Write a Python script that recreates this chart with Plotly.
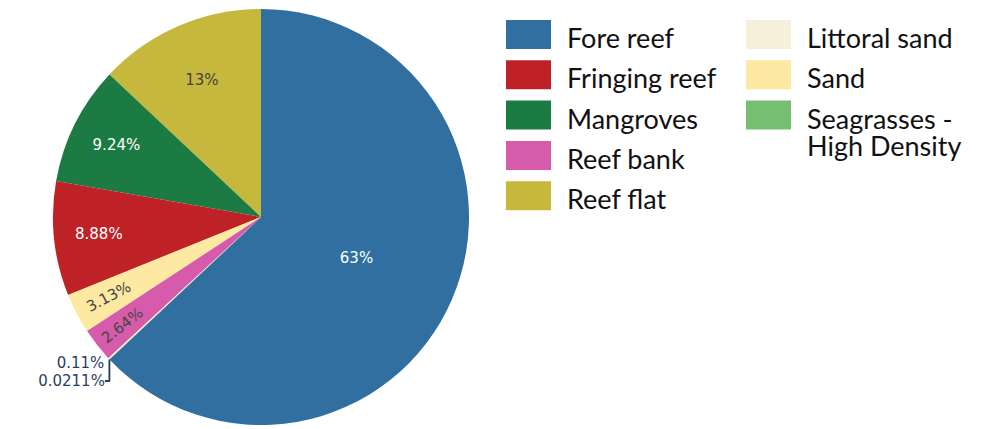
import plotly.graph_objects as go

# Habitat classes and their share of the mapped area (%)
habitats = [
    "Fore reef",
    "Fringing reef",
    "Mangroves",
    "Reef bank",
    "Reef flat",
    "Littoral sand",
    "Sand",
    "Seagrasses - High Density",
]
shares = [62.98, 8.88, 9.24, 2.64, 12.99, 0.11, 3.13, 0.0211]
colors = [
    "#306fa0",
    "#be2226",
    "#1b7b42",
    "#d65bab",
    "#c6b83c",
    "#f6f0db",
    "#fde9a2",
    "#76bf72",
]
# legend label lines (long names wrap onto a second line)
legend_lines = [
    ["Fore reef"],
    ["Fringing reef"],
    ["Mangroves"],
    ["Reef bank"],
    ["Reef flat"],
    ["Littoral sand"],
    ["Sand"],
    ["Seagrasses -", "High Density"],
]

W, H = 1005, 429
M_T, M_B = 9, 4
PLOT_H = H - M_T - M_B


def py(y_px):
    """Pixel row (from the figure top) -> paper y."""
    return 1 - (y_px - M_T) / PLOT_H


fig = go.Figure(
    go.Pie(
        labels=habitats,
        values=shares,
        marker=dict(colors=colors, line=dict(width=0)),
        textinfo="percent",
        textfont=dict(family="DejaVu Sans", size=15),
        sort=True,
        direction="counterclockwise",
        automargin=False,
        domain=dict(x=[0, 0.5194], y=[0, 1]),
        showlegend=False,
        hoverinfo="label+percent",
    )
)

# Two-column legend drawn with swatches and text labels
shapes = []
annotations = []
per_col = 5
col_x = [506, 746]
row_top = 20
row_step = 40.3
sw_w, sw_h = 45, 29
for i, (name, col) in enumerate(zip(habitats, colors)):
    c, r = divmod(i, per_col)
    x0 = col_x[c]
    y0 = row_top + r * row_step
    shapes.append(
        dict(
            type="rect", xref="paper", yref="paper",
            x0=x0 / W, x1=(x0 + sw_w) / W,
            y0=py(y0 + sw_h), y1=py(y0),
            fillcolor=col, line=dict(width=0), layer="above",
        )
    )
    yc = y0 + sw_h / 2 + 3
    for k, line in enumerate(legend_lines[i]):
        annotations.append(
            dict(
                text=line, xref="paper", yref="paper",
                x=(x0 + 59) / W, y=py(yc + k * 27),
                xanchor="left", yanchor="middle", showarrow=False,
                font=dict(family="Lato", size=27, color="#111111"),
            )
        )

fig.update_layout(
    width=W,
    height=H,
    margin=dict(l=0, r=0, t=M_T, b=M_B, pad=0, autoexpand=False),
    paper_bgcolor="white",
    plot_bgcolor="white",
    shapes=shapes,
    annotations=annotations,
)

fig.write_html("out.html")
